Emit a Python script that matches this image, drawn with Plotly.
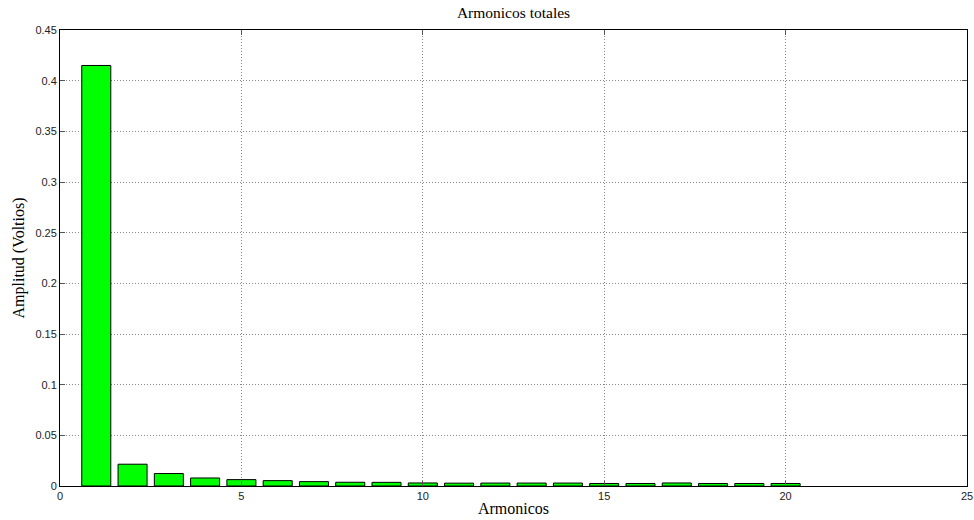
import plotly.graph_objects as go

harmonics = list(range(1, 21))
amplitudes = [0.415, 0.0215, 0.0123, 0.0079, 0.0063, 0.0053, 0.0043, 0.0037, 0.0036, 0.003,
              0.0028, 0.0029, 0.0029, 0.0029, 0.0025, 0.0025, 0.003, 0.0025, 0.0025, 0.0025]
x_ticks = [0, 5, 10, 15, 20, 25]
y_ticks = [0, 0.05, 0.1, 0.15, 0.2, 0.25, 0.3, 0.35, 0.4, 0.45]
y_ticklabels = ["0", "0.05", "0.1", "0.15", "0.2", "0.25", "0.3", "0.35", "0.4", "0.45"]

fig = go.Figure()
fig.add_trace(go.Bar(x=harmonics, y=amplitudes, width=0.8,
                     marker=dict(color="#00FF00", line=dict(color="#000000", width=1))))

axis_common = dict(showline=True, linecolor="#000000", linewidth=1, mirror="ticks",
                   ticks="inside", ticklen=5, tickcolor="#555555", automargin=False,
                   showgrid=True, gridcolor="#888888", griddash="1px,2px", gridwidth=1,
                   zeroline=False, tickfont=dict(family="Arial", size=11, color="#222222"))

fig.update_layout(
    width=974, height=520,
    margin=dict(l=60, r=7, t=30, b=34),
    paper_bgcolor="white", plot_bgcolor="white",
    showlegend=False,
    title=dict(text="Armonicos totales", xref="paper", x=0.5, xanchor="center",
               y=0.975, yanchor="middle",
               font=dict(family="Liberation Serif", size=15.5, color="black")),
    xaxis=dict(range=[0, 25], tickvals=x_ticks, ticktext=[str(v) for v in x_ticks],
               title=dict(text="Armonicos", standoff=1,
                          font=dict(family="Liberation Serif", size=16, color="black")),
               **axis_common),
    yaxis=dict(range=[0, 0.45], tickvals=y_ticks, ticktext=y_ticklabels,
               title=dict(text="Amplitud (Voltios)", standoff=6,
                          font=dict(family="Liberation Serif", size=16, color="black")),
               **axis_common),
)

fig.write_html("out.html", config={"displayModeBar": False},
               post_script="document.body.style.margin='0';")
